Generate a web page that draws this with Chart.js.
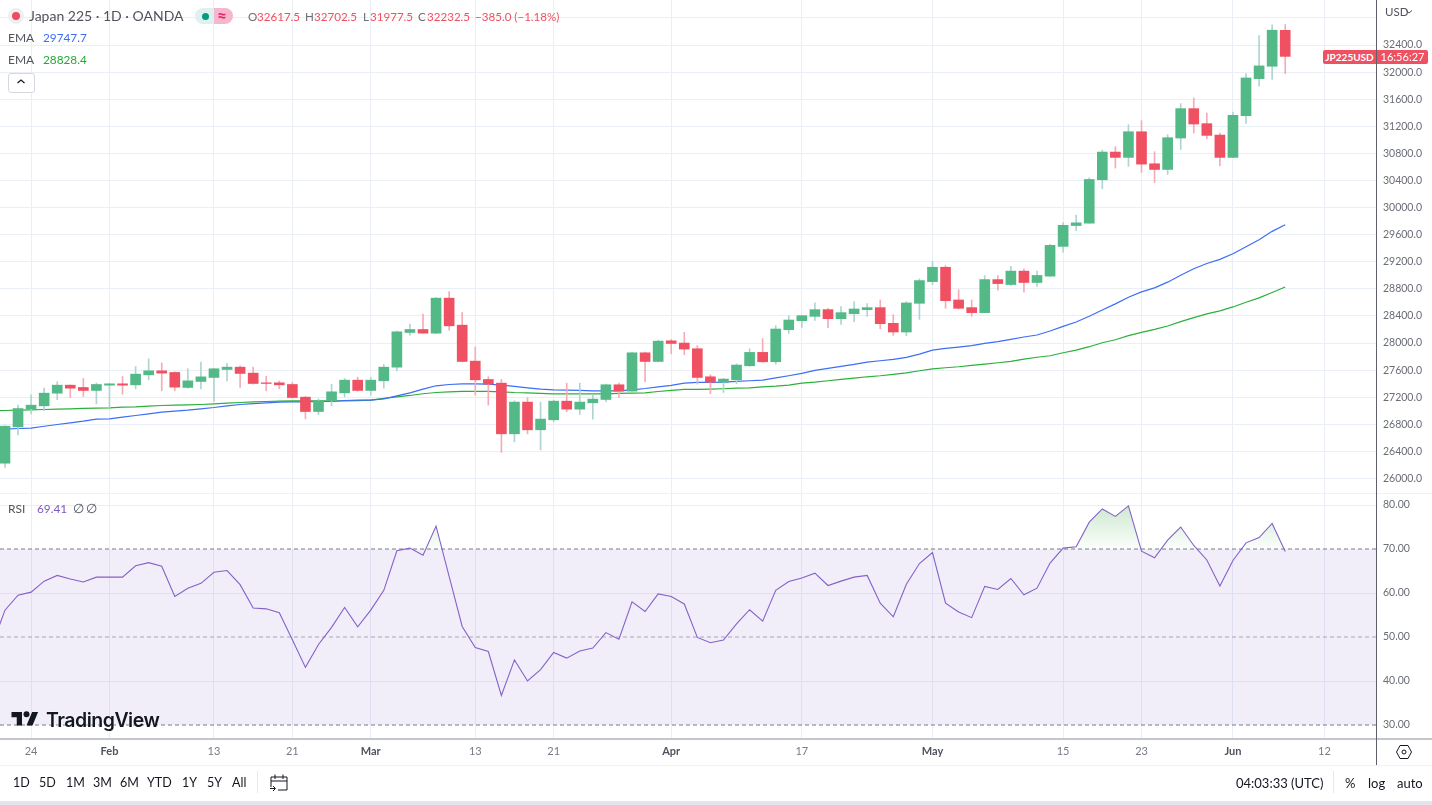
<!DOCTYPE html>
<html>
<head>
<meta charset="utf-8">
<script src="https://cdn.jsdelivr.net/npm/chart.js@4"></script>
<style>
  html, body { margin:0; padding:0; width:1432px; height:805px; overflow:hidden; background:#fff; }
  body { font-family:Lato,sans-serif; color:#50535e; position:relative; }
  .pane { position:absolute; left:0; width:1432px; }
  .t { position:absolute; white-space:nowrap; line-height:16px; }
  .box { position:absolute; }
</style>
</head>
<body>
<div class="pane" style="top:0;height:493px"><canvas id="price"></canvas></div>
<div class="pane" style="top:494px;height:271px"><canvas id="rsi"></canvas></div>

<!-- pane separators and axis lines -->
<div class="box" style="left:0;top:493px;width:1432px;height:1px;background:#eef1f6"></div>
<div class="box" style="left:0;top:738px;width:1432px;height:2px;background:#c4c6cd"></div>
<div class="box" style="left:1376px;top:0;width:1px;height:765px;background:#5d606b"></div>
<div class="box" style="left:0;top:765px;width:1432px;height:1px;background:#f0f3fa"></div>
<div class="box" style="left:0;top:801px;width:1432px;height:4px;background:#e3e5ee"></div>

<!-- header -->
<div class="box" style="left:8px;top:8px;width:16px;height:16px;border-radius:50%;background:#eff0f7"></div>
<div class="box" style="left:12px;top:12px;width:8px;height:8px;border-radius:50%;background:#f2495c"></div>
<div class="t" style="left:29px;top:8px;font-size:14px">Japan 225 · 1D · OANDA</div>
<div class="box" style="left:195px;top:8px;width:19px;height:16px;border-radius:8px 0 0 8px;background:#dff1ee"></div>
<div class="box" style="left:214px;top:8px;width:19px;height:16px;border-radius:0 8px 8px 0;background:#f6b6ce"></div>
<div class="box" style="left:202px;top:12.500px;width:7px;height:7px;border-radius:50%;background:#089981"></div>
<div class="t" style="left:217px;top:8px;font-size:17px;font-weight:700;color:#e91e63">≈</div>
<div id="ohlc"></div>
<div class="t" style="left:8px;top:30px;font-size:12px">EMA</div>
<div class="t" style="left:43px;top:30px;font-size:11.800px;color:#3d6ef5">29747.7</div>
<div class="t" style="left:8px;top:52px;font-size:12px">EMA</div>
<div class="t" style="left:43px;top:52px;font-size:11.800px;color:#22ab32">28828.4</div>
<div class="box" style="left:8px;top:73px;width:25px;height:18px;border:1px solid #d6d8e0;border-radius:3px;background:#fff"></div>
<svg class="box" style="left:16px;top:78px" width="10" height="7"><path d="M1.500 5 L5 2 L8.500 5" fill="none" stroke="#131722" stroke-width="1.200"/></svg>

<!-- price axis extras -->
<div class="t" style="left:1385px;top:4px;font-size:11.500px">USD</div>
<svg class="box" style="left:1405px;top:9px" width="8" height="6"><path d="M1 1.500 L4 4 L7 1.500" fill="none" stroke="#50535e" stroke-width="1"/></svg>
<div class="t" style="left:1323px;top:50px;width:53px;height:14px;line-height:14px;text-align:center;font-size:10px;font-weight:700;color:#fff;background:#ef5062;border-radius:2px 0 0 2px">JP225USD</div>
<div class="t" style="left:1377px;top:50px;width:51px;height:14px;line-height:14px;text-align:center;font-size:11px;color:#fff;background:#ef5062;border-radius:0 2px 2px 0">16:56:27</div>

<!-- rsi legend -->
<div class="t" style="left:8px;top:501px;font-size:12px">RSI</div>
<div class="t" style="left:37px;top:501px;font-size:11.800px;color:#7e57c2">69.41</div>
<div class="t" style="left:73px;top:501px;font-size:12.500px">∅</div>
<div class="t" style="left:86px;top:501px;font-size:12.500px">∅</div>

<!-- watermark -->
<svg class="box" style="left:11px;top:709px" width="28" height="21" viewBox="0 0 36 28"><path d="M14 22H7V11H0V4h14v18zM28 22h-8l7.500-18h8L28 22z" fill="#131722"/><circle cx="20" cy="7" r="4" fill="#131722"/></svg>
<div class="t" style="left:46px;top:710px;font-size:19.500px;line-height:20px;font-family:Inter,sans-serif;font-weight:600;letter-spacing:-.5px;color:#131722;text-shadow:0 0 2px #fff">TradingView</div>

<!-- settings icon -->
<svg class="box" style="left:1395px;top:744px" width="18" height="16"><path d="M5 1.500 H13 L16.500 8 L13 14.500 H5 L1.500 8 Z" fill="none" stroke="#131722" stroke-width="1"/><circle cx="9" cy="8" r="2" fill="none" stroke="#131722" stroke-width="1"/></svg>

<!-- bottom toolbar -->
<div id="toolbar"></div>
<div class="box" style="left:257px;top:771px;width:1px;height:22px;background:#e6e8ee"></div>
<svg class="box" style="left:269px;top:773px" width="20" height="20"><path d="M2 14 V4 H18 V17 H9 M2 8 H18 M6 1.500 V6 M14 1.500 V6 M1 15.500 H6 M4 13 L6.500 15.500 L4 18" fill="none" stroke="#131722" stroke-width="1"/></svg>
<div class="box" style="left:1333px;top:771px;width:1px;height:22px;background:#e6e8ee"></div>

<script>
// one entry per trading day
const dates = ['Jan 19','Jan 20','Jan 23','Jan 24','Jan 25','Jan 26','Jan 27','Jan 30','Jan 31',
  'Feb 1','Feb 2','Feb 3','Feb 6','Feb 7','Feb 8','Feb 9','Feb 10','Feb 13','Feb 14','Feb 15','Feb 16','Feb 17','Feb 20','Feb 21','Feb 22','Feb 23','Feb 24','Feb 27','Feb 28',
  'Mar 1','Mar 2','Mar 3','Mar 6','Mar 7','Mar 8','Mar 9','Mar 10','Mar 13','Mar 14','Mar 15','Mar 16','Mar 17','Mar 20','Mar 21','Mar 22','Mar 23','Mar 24','Mar 27','Mar 28','Mar 29','Mar 30','Mar 31',
  'Apr 3','Apr 4','Apr 5','Apr 6','Apr 7','Apr 10','Apr 11','Apr 12','Apr 13','Apr 14','Apr 17','Apr 18','Apr 19','Apr 20','Apr 21','Apr 24','Apr 25','Apr 26','Apr 27','Apr 28',
  'May 1','May 2','May 3','May 4','May 5','May 8','May 9','May 10','May 11','May 12','May 15','May 16','May 17','May 18','May 19','May 22','May 23','May 24','May 25','May 26','May 29','May 30','May 31',
  'Jun 1','Jun 2','Jun 5','Jun 6','Jun 7'];

// Jan 19 sits left of the visible window, only the lines need it
const opens = [null,26226,26763,27029,27073,27260,27378,27344,27300,
  27378,27398,27383,27531,27590,27566,27344,27433,27492,27610,27644,27556,27413,27413,27388,27201,26989,27147,27265,27452,
  27300,27443,27644,28156,28200,28146,28663,28264,27733,27462,27408,26660,27128,26719,26867,27142,27024,27118,27167,27384,27290,27856,27728,
  28033,28000,27916,27502,27423,27458,27665,27862,27724,28197,28330,28394,28493,28360,28434,28493,28523,28291,28163,28587,
  28907,29119,28636,28523,28449,28937,28864,29062,28894,28988,29427,29735,29770,30411,30820,30741,31120,30647,30563,31027,31461,31239,31071,
  30741,31357,31904,32087,32617.5];
const highs = [null,26780,27083,27235,27334,27428,27383,27477,27408,
  27405,27506,27654,27767,27708,27575,27620,27718,27625,27699,27664,27644,27511,27442,27418,27211,27176,27393,27477,27497,
  27492,27684,28176,28279,28427,28670,28761,28451,27944,27502,27462,27147,27192,27128,27157,27408,27408,27231,27393,27408,27866,27866,28043,
  28053,28158,27961,27532,27477,27694,27916,28064,28256,28404,28414,28592,28513,28537,28611,28582,28636,28419,28611,28947,
  29203,29144,28789,28636,28996,28996,29131,29096,29062,29457,29778,29888,30440,30849,30899,31224,31283,30825,31076,31535,31618,31397,31101,
  31411,31978,32540,32698,32702.5];
const lows = [null,26162,26644,26955,27000,27162,27196,27211,27102,
  27048,27245,27324,27457,27295,27295,27334,27324,27137,27442,27344,27393,27295,27324,27186,26881,26945,27073,27206,27290,
  27231,27334,27590,28117,28146,28140,28190,27723,27231,27083,26385,26542,26660,26424,26837,26985,26946,26877,27133,27197,27290,27428,27723,
  27841,27827,27394,27251,27270,27399,27655,27714,27689,28143,28232,28335,28227,28276,28316,28394,28212,28113,28108,28350,
  28863,28513,28503,28394,28449,28779,28849,28751,28835,28983,29343,29661,29770,30277,30583,30608,30519,30371,30489,30859,31101,31017,30618,
  30741,31244,31791,31894,31977.5];
const closes = [null,26772,27033,27083,27260,27378,27334,27300,27388,
  27398,27378,27541,27590,27556,27349,27442,27501,27620,27644,27551,27403,27403,27383,27196,26989,27147,27280,27452,27300,
  27452,27644,28166,28200,28146,28663,28254,27728,27457,27393,26660,27128,26719,26877,27142,27024,27128,27172,27384,27290,27856,27728,28028,
  27994,27911,27492,27423,27468,27675,27862,27724,28207,28340,28404,28493,28360,28449,28503,28523,28286,28163,28592,28922,
  29119,28626,28513,28449,28937,28878,29062,28894,28998,29442,29738,29775,30415,30820,30741,31120,30642,30563,31032,31461,31234,31066,30741,
  31362,31914,32092,32619,32232.5];
const emaBlue = [26722,26728,26738,26743,26772,26797,26822,26846,26876,
  26881,26905,26930,26955,26979,26994,27009,27029,27048,27073,27093,27107,27117,27127,27132,27132,27137,27137,27152,27157,
  27157,27177,27221,27265,27320,27369,27388,27398,27398,27393,27379,27359,27339,27320,27310,27305,27300,27295,27295,27295,27310,27329,27354,
  27374,27408,27418,27418,27423,27433,27443,27453,27487,27517,27551,27596,27625,27655,27684,27719,27739,27758,27788,27837,
  27896,27921,27941,27961,27995,28020,28054,28089,28119,28178,28247,28311,28395,28489,28578,28677,28756,28815,28899,29002,29096,29175,29235,
  29318,29422,29526,29649,29747.7];
const emaGreen = [27000,27004,27009,27014,27019,27024,27029,27034,27038,
  27043,27053,27058,27068,27078,27083,27088,27093,27102,27112,27122,27132,27137,27142,27147,27147,27147,27147,27145,27150,
  27157,27182,27206,27226,27251,27270,27280,27285,27285,27285,27280,27270,27265,27256,27251,27251,27251,27251,27251,27256,27261,27265,27285,
  27300,27315,27315,27320,27325,27334,27339,27354,27364,27379,27408,27423,27443,27463,27482,27502,27517,27537,27561,27591,
  27620,27635,27650,27670,27689,27709,27729,27763,27790,27812,27857,27896,27946,28005,28049,28109,28158,28202,28252,28316,28375,28430,28474,
  28533,28602,28667,28746,28828.4];
const rsiValues = [48,56.1,59.5,60.2,62.7,64,63.2,62.5,63.6,
  63.6,63.6,66.2,66.9,66.1,59.2,61.1,62.2,64.7,65.1,61.9,56.6,56.4,55.5,49.4,43.1,48.3,52.2,56.7,52.3,
  56.1,60.6,69.6,70.2,68.6,75.2,63.8,52.4,47.6,46.7,36.7,44.8,40,42.6,46.5,45.2,46.8,47.5,51,49.5,58,55.8,59.8,
  59.2,57.5,49.9,48.7,49.3,53,56.2,53.6,60.6,62.6,63.4,64.5,61.7,62.7,63.6,64,57.7,54.6,62,66.7,
  69.2,57.7,55.7,54.4,61.5,60.8,63.3,59.6,61.1,66.8,70.2,70.5,76.1,79.1,77.4,79.8,69.5,68,72,75,70.8,67.5,61.6,
  67.4,71.4,72.6,75.8,69.41];

const tickDates = ['Jan 24','Feb 1','Feb 13','Feb 21','Mar 1','Mar 13','Mar 21','Apr 3','Apr 17','May 1','May 15','May 23','Jun 1'];
const tickLabels = ['24','Feb','13','21','Mar','13','21','Apr','17','May','15','23','Jun'];
const monthLabels = ['Feb','Mar','Apr','May','Jun'];
const priceTicks = [32800,32400,32000,31600,31200,30800,30400,30000,29600,29200,28800,28400,28000,27600,27200,26800,26400,26000];
const rsiTicks = [80,70,60,50,40,30];
const rsiBand = [70,30];
const rsiDashed = [70,50,30];

const legendOpen = ['O','32617.5','H','32702.5','L','31977.5','C','32232.5','−385.0 (−1.18%)'];
const rangeButtons = ['1D','5D','1M','3M','6M','YTD','1Y','5Y','All'];

// window of the chart in bar numbers
const xFrom = 0.62, xTo = 105.95;
// bar 102 is Jun 12, past the data
const tickBars = tickDates.map(d => dates.indexOf(d)).concat([102]);
const tickTexts = tickLabels.concat(['12']);

const UP = '#53b987', DOWN = '#ef5062', UP_WICK = '#afd4d3', DOWN_WICK = '#f7abb5';
const GRID = '#e9eff5';
const AXIS_FONT = 'Lato, sans-serif';

// tick labels must not push the plot area in from the canvas edge
function noLabelPadding(s) {
  s.paddingTop = s.paddingBottom = s.paddingLeft = s.paddingRight = 0;
}

function xScale(showLabels) {
  return {
    type: 'linear', min: xFrom, max: xTo, offset: false,
    grid: { color: GRID, offset: false, drawTicks: false },
    border: { display: false },
    afterBuildTicks: s => { s.ticks = tickBars.map(v => ({ value: v })); },
    afterFit: s => { s.height = showLabels ? 26 : 0; noLabelPadding(s); },
    ticks: {
      display: showLabels, autoSkip: false, maxRotation: 0, padding: 6,
      callback: v => tickTexts[tickBars.indexOf(v)],
      color: c => monthLabels.includes(tickTexts[c.index]) ? '#50535e' : '#787b86',
      font: c => ({ family: AXIS_FONT, size: 11, weight: monthLabels.includes(tickTexts[c.index]) ? 'bold' : 'normal' })
    }
  };
}

function yScale(min, max, values, fmt, gridColor) {
  return {
    position: 'right', min: min, max: max,
    grid: { color: gridColor, drawTicks: false },
    border: { display: false },
    afterBuildTicks: s => { s.ticks = values.map(v => ({ value: v })); },
    afterFit: s => { s.width = 56; noLabelPadding(s); },
    ticks: { autoSkip: false, padding: 7, color: '#6a6d78', font: { family: AXIS_FONT, size: 10.5 }, callback: fmt }
  };
}

const bars = dates.map((d, i) => i).filter(i => opens[i] !== null);
const common = {
  responsive: true, maintainAspectRatio: false, animation: false,
  layout: { padding: 0, autoPadding: false },
  plugins: { legend: { display: false }, tooltip: { enabled: false } }
};

// price pane: wicks and bodies are floating bars on the same scale
const priceChart = new Chart(document.getElementById('price'), {
  type: 'bar',
  data: {
    datasets: [
      { type: 'bar', order: 1, grouped: false, barThickness: 10, borderSkipped: false,
        data: bars.map(i => ({ x: i, y: [opens[i], closes[i]] })),
        backgroundColor: bars.map(i => closes[i] >= opens[i] ? UP : DOWN) },
      { type: 'bar', order: 2, grouped: false, barThickness: 1,
        data: bars.map(i => ({ x: i, y: [lows[i], highs[i]] })),
        backgroundColor: bars.map(i => closes[i] >= opens[i] ? UP_WICK : DOWN_WICK) },
      { type: 'line', order: 3, data: dates.map((d, i) => ({ x: i, y: emaBlue[i] })),
        borderColor: '#3d6ef5', borderWidth: 1.2, pointRadius: 0, tension: 0 },
      { type: 'line', order: 3, data: dates.map((d, i) => ({ x: i, y: emaGreen[i] })),
        borderColor: '#2bb03a', borderWidth: 1.2, pointRadius: 0, tension: 0 }
    ]
  },
  options: {
    ...common,
    scales: {
      x: xScale(false),
      y: yScale(25786, 33065, priceTicks, v => v >= 32800 ? '' : v.toFixed(1), GRID)
    }
  }
});

// rsi pane: purple band between the 70 and 30 levels, green above 70
function levelLine(v, color) {
  return { type: 'line', order: 4, data: [{ x: xFrom, y: v }, { x: xTo, y: v }],
    borderColor: color, borderWidth: 1, borderDash: [4, 3], pointRadius: 0 };
}
const rsiChart = new Chart(document.getElementById('rsi'), {
  type: 'line',
  data: {
    datasets: [
      { order: 5, data: [{ x: xFrom, y: rsiBand[0] }, { x: xTo, y: rsiBand[0] }],
        borderWidth: 0, pointRadius: 0, fill: { value: rsiBand[1] }, backgroundColor: 'rgba(126,87,194,0.1)' },
      levelLine(rsiDashed[0], '#787b86'),
      levelLine(rsiDashed[1], '#a9a6b6'),
      levelLine(rsiDashed[2], '#787b86'),
      { order: 1, data: dates.map((d, i) => ({ x: i, y: rsiValues[i] })),
        borderColor: '#8561c8', borderWidth: 1.1, pointRadius: 0, tension: 0 }
    ]
  },
  options: {
    ...common,
    scales: {
      x: xScale(true),
      y: yScale(26.82, 82.5, rsiTicks, v => v.toFixed(2), c => rsiDashed.includes(c.tick.value) ? 'rgba(0,0,0,0)' : GRID)
    }
  }
});

// the fading green needs pixel positions, so it goes in after the first layout
const ys = rsiChart.scales.y;
const fade = rsiChart.ctx.createLinearGradient(0, ys.getPixelForValue(rsiTicks[0]), 0, ys.getPixelForValue(rsiBand[0]));
fade.addColorStop(0, 'rgba(76,175,80,0.28)');
fade.addColorStop(1, 'rgba(76,175,80,0.02)');
rsiChart.data.datasets[4].fill = { target: { value: rsiBand[0] }, above: fade, below: 'rgba(0,0,0,0)' };
rsiChart.update('none');

// html legend rows
function addText(parent, x, y, txt, css) {
  const el = document.createElement('div');
  el.className = 't';
  el.style.cssText = `left:${x}px;top:${y}px;` + css;
  el.textContent = txt;
  parent.appendChild(el);
}
const ohlc = document.getElementById('ohlc');
const ohlcX = [248, 257, 305, 314, 363, 370, 418, 427, 475];
legendOpen.forEach((s, i) => {
  const isLetter = i < 8 && i % 2 === 0;
  addText(ohlc, ohlcX[i], 9, s, 'font-size:11.6px;color:' + (isLetter ? '#6a6d78' : '#ef5062'));
});
const tb = document.getElementById('toolbar');
const tbX = [13, 39, 66, 93, 120, 147, 182, 207, 232];
rangeButtons.forEach((s, i) => addText(tb, tbX[i], 775, s, 'font-size:12.5px;color:#131722'));
addText(tb, 1236, 775, '04:03:33 (UTC)', 'font-size:13px;color:#131722');
addText(tb, 1345, 775, '%', 'font-size:13px;color:#131722');
addText(tb, 1368, 775, 'log', 'font-size:13px;color:#131722');
addText(tb, 1397, 775, 'auto', 'font-size:13px;color:#131722');
</script>
</body>
</html>
